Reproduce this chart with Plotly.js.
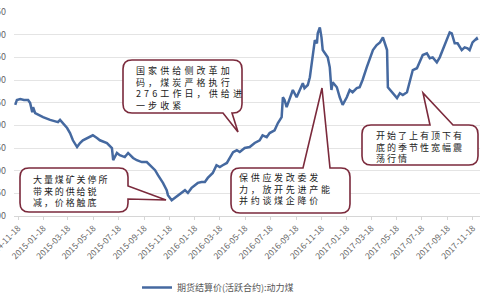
<!DOCTYPE html>
<html>
<head>
<meta charset="utf-8">
<script src="https://cdn.plot.ly/plotly-3.0.1.min.js"></script>
<style>html,body{margin:0;padding:0;background:#fff;}#chart{width:500px;height:300px;}</style>
</head>
<body>
<div id="chart"></div>
<script>
var seriesName = '期货结算价(活跃合约):动力煤';
var dates = ['2014-11-11','2014-11-15','2014-11-23','2014-12-02','2014-12-12','2014-12-17','2014-12-22','2014-12-24','2014-12-29','2015-01-05','2015-01-17','2015-02-03','2015-02-22','2015-02-27','2015-03-06','2015-03-16','2015-03-23','2015-03-30','2015-04-09','2015-04-16','2015-04-23','2015-05-05','2015-05-17','2015-05-27','2015-06-03','2015-06-20','2015-07-02','2015-07-05','2015-07-14','2015-07-21','2015-08-02','2015-08-10','2015-08-22','2015-08-31','2015-09-12','2015-09-24','2015-10-06','2015-10-14','2015-10-21','2015-10-30','2015-11-02','2015-11-11','2015-11-14','2015-11-23','2015-11-30','2015-12-08','2015-12-17','2015-12-25','2016-01-01','2016-01-10','2016-01-18','2016-01-25','2016-02-03','2016-02-11','2016-02-18','2016-03-01','2016-03-10','2016-03-18','2016-03-25','2016-04-04','2016-04-11','2016-04-19','2016-04-28','2016-05-05','2016-05-17','2016-05-29','2016-06-10','2016-06-22','2016-06-29','2016-07-09','2016-07-16','2016-07-28','2016-08-05','2016-08-14','2016-08-17','2016-08-21','2016-08-26','2016-09-02','2016-09-07','2016-09-10','2016-09-19','2016-09-26','2016-10-04','2016-10-08','2016-10-16','2016-10-21','2016-10-28','2016-11-02','2016-11-07','2016-11-09','2016-11-14','2016-11-18','2016-11-21','2016-11-26','2016-12-03','2016-12-08','2016-12-12','2016-12-15','2016-12-25','2017-01-01','2017-01-08','2017-01-18','2017-01-25','2017-02-01','2017-02-11','2017-02-18','2017-02-25','2017-03-07','2017-03-14','2017-03-22','2017-03-31','2017-04-08','2017-04-15','2017-04-20','2017-04-25','2017-04-27','2017-05-02','2017-05-09','2017-05-19','2017-05-26','2017-06-02','2017-06-12','2017-06-19','2017-06-26','2017-07-06','2017-07-13','2017-07-20','2017-07-30','2017-08-06','2017-08-13','2017-08-23','2017-08-30','2017-09-06','2017-09-16','2017-09-23','2017-09-28','2017-10-05','2017-10-12','2017-10-22','2017-10-29','2017-11-05','2017-11-10','2017-11-17','2017-11-27','2017-11-29'];
var prices = [545,556,558,556,556,549,529,540,527,523,518,512,507,512,505,494,483,467,452,461,467,472,478,472,467,461,450,423,439,434,430,439,428,423,419,419,408,401,390,379,373,357,346,335,340,346,353,357,351,362,368,373,375,375,384,395,412,408,412,417,428,441,445,441,450,452,461,467,478,474,483,489,505,518,562,556,540,556,571,578,562,578,593,582,589,606,659,688,681,703,716,694,666,659,650,628,578,595,584,562,545,562,578,573,582,584,600,628,644,666,677,683,694,681,666,584,578,571,560,571,567,573,600,622,626,639,655,659,648,650,639,650,666,688,705,703,681,681,666,672,670,666,683,692,688];
var tickDates = ['2014-11-18','2015-01-18','2015-03-18','2015-05-18','2015-07-18','2015-09-18','2015-11-18','2016-01-18','2016-03-18','2016-05-18','2016-07-18','2016-09-18','2016-11-18','2017-01-18','2017-03-18','2017-05-18','2017-07-18','2017-09-18','2017-11-18'];
var yTicks = [300,350,400,450,500,550,600,650,700,750];
var notes = [
  ['国家供给侧改革加','码，煤炭严格执行','276工作日，供给进','一步收紧'],
  ['大量煤矿关停所','带来的供给锐','减，价格触底'],
  ['保供应发改委发','力，放开先进产能','并约谈煤企降价'],
  ['开始了上有顶下有','底的季节性宽幅震','荡行情']
];

// layout geometry (pixels)
var L = 14, R = 480, T = 12, B = 216, W = 500, H = 300;
function px(x){ return (x - L) / (R - L); }
function py(y){ return (B - y) / (B - T); }
function P(x, y){ return px(x).toFixed(5) + ',' + py(y).toFixed(5); }

// rounded box with tail: side = 'top'|'bottom'|'right'
function callout(x0, y0, x1, y1, r, side, a, b, tx, ty){
  var d = 'M' + P(x0 + r, y0);
  if (side === 'top') { d += ' L' + P(a, y0) + ' L' + P(tx, ty) + ' L' + P(b, y0); }
  d += ' L' + P(x1 - r, y0) + ' Q' + P(x1, y0) + ' ' + P(x1, y0 + r);
  if (side === 'right') { d += ' L' + P(x1, a) + ' L' + P(tx, ty) + ' L' + P(x1, b); }
  d += ' L' + P(x1, y1 - r) + ' Q' + P(x1, y1) + ' ' + P(x1 - r, y1);
  if (side === 'bottom') { d += ' L' + P(b, y1) + ' L' + P(tx, ty) + ' L' + P(a, y1); }
  d += ' L' + P(x0 + r, y1) + ' Q' + P(x0, y1) + ' ' + P(x0, y1 - r);
  d += ' L' + P(x0, y0 + r) + ' Q' + P(x0, y0) + ' ' + P(x0 + r, y0) + ' Z';
  return {type:'path', xref:'paper', yref:'paper', path:d, layer:'above',
    line:{color:'#7b2a3c', width:1.6}, fillcolor:'#ffffff'};
}

var shapes = [
  callout(123, 60, 242, 113, 9, 'bottom', 223, 232, 238, 132),
  callout(20, 168, 128, 212, 9, 'right', 186, 199, 166, 200),
  callout(231, 168, 350, 213, 9, 'top', 303, 330, 322, 88),
  callout(362, 125, 478, 165, 9, 'top', 430, 453, 423, 93)
];

var textPos = [
  {x:135, cy:87.5, ls:3.1, size:9},
  {x:32, cy:191, ls:1.9, size:9},
  {x:238, cy:189, ls:2.7, size:9},
  {x:375, cy:147, ls:2.0, size:9}
];
var annotations = notes.map(function(lines, i){
  var tp = textPos[i];
  return {xref:'paper', yref:'paper', x:px(tp.x), y:py(tp.cy),
    xanchor:'left', yanchor:'middle', align:'left', showarrow:false, borderpad:0,
    text: lines.map(function(t){ return '<span style="letter-spacing:' + tp.ls + 'px">' + t + '</span>'; }).join('<br>'),
    font:{family:'"Noto Sans CJK SC", sans-serif', size:tp.size, color:'#222'}};
});

var trace = {
  x: dates, y: prices, type:'scatter', mode:'lines', name: seriesName,
  line:{color:'#4569a0', width:2.5}
};

var layout = {
  width:W, height:H,
  margin:{l:L, r:W - R, t:T, b:H - B, pad:0, autoexpand:false},
  paper_bgcolor:'#ffffff', plot_bgcolor:'#ffffff',
  font:{family:'"Noto Sans CJK SC", "Noto Sans", sans-serif', color:'#666'},
  xaxis:{type:'date', range:['2014-11-08','2017-12-05'], tickvals:tickDates, tickformat:'%Y-%m-%d',
    tickangle:-45, tickfont:{size:8.5, color:'#666'}, showgrid:false, zeroline:false,
    showline:true, linecolor:'#d6d6d6', linewidth:1, ticks:'outside', ticklen:3, tickcolor:'#d6d6d6',
    ticklabeloverflow:'allow', automargin:false, fixedrange:true},
  yaxis:{range:[300,750], tickvals:yTicks, showgrid:true, gridcolor:'#e4e4e4', gridwidth:1,
    zeroline:false, showline:false, tickfont:{size:9, color:'#666'}, ticklabelstandoff:7,
    ticklabeloverflow:'allow', automargin:false, fixedrange:true},
  showlegend:true,
  legend:{orientation:'h', x:0.264, xanchor:'left', y:py(273), yanchor:'top',
    font:{size:9, color:'#555'}, bgcolor:'rgba(0,0,0,0)'},
  shapes:shapes,
  annotations:annotations
};

Plotly.newPlot('chart', [trace], layout, {staticPlot:true, displayModeBar:false});
</script>
</body>
</html>
